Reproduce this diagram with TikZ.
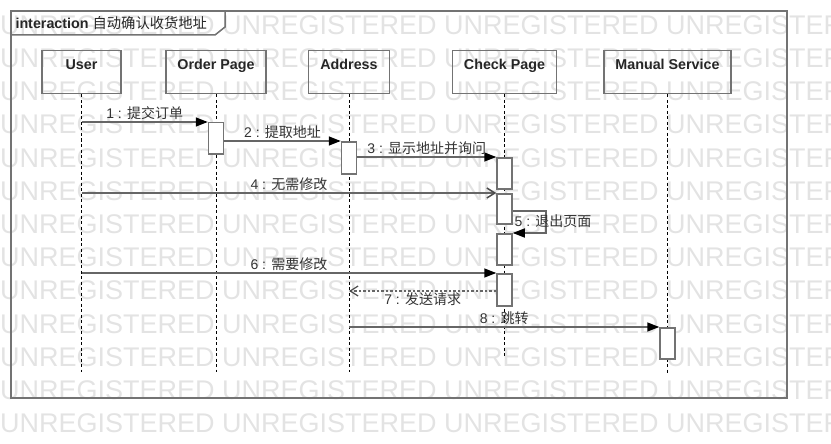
\documentclass[tikz,border=0pt]{standalone}
\usepackage{fontspec}
\setmainfont{Liberation Sans}
\newfontfamily\cjk{Noto Sans CJK SC}
\usetikzlibrary{
    positioning,
    arrows.meta
}

\begin{document}
\begin{tikzpicture}[x=1pt, y=-1pt,
    watermark/.style={text=black!11, font=\fontsize{27}{30}\selectfont, inner sep=0pt, anchor=west},
    frameline/.style={draw=black!55, line width=1.5pt},
    head/.style={draw=black!55, line width=1.5pt, minimum width=#1, minimum height=43pt,
        inner ysep=0pt, text height=19pt, text depth=24pt, anchor=north,
        font=\fontsize{14.3}{16}\selectfont\bfseries, text=black!85},
    lifeline/.style={black, line width=0.8pt, dash pattern=on 3pt off 2.5pt},
    act/.style={draw=black!55, fill=white, line width=1.5pt, minimum width=15pt,
        minimum height=#1, inner sep=0pt, anchor=north},
    call/.style={draw=black!60, line width=1.5pt, -{Triangle[length=12pt,width=9pt,black]}},
    async/.style={draw=black!60, line width=1.5pt, -{Straight Barb[length=8pt,width=10pt,black!70]}},
    reply/.style={draw=black!60, line width=1.2pt, dash pattern=on 2.5pt off 2pt,
        -{Straight Barb[length=8pt,width=10pt,black!70]}},
    msg/.style={font=\fontsize{14}{16}\selectfont, text=black!80, inner sep=1.5pt}
  ]
    \useasboundingbox (0,0) rectangle (831,444);

    % 透かし
    \begin{scope}
        \clip (0,0) rectangle (831,444);
        \foreach \r in {0,...,12}
            \node[watermark] at (0,{25+33.2*\r}) {UNREGISTERED UNREGISTERED UNREGISTERED UNREGISTERED};
    \end{scope}

    % 枠
    \draw[frameline] (11,11) rectangle (787,398);
    \draw[frameline] (11,35) -- (215,35) -- (225,27) -- (225,11);
    \node[anchor=west, font=\fontsize{14.3}{16}\selectfont, text=black!85] (title) at (12,23)
        {\textbf{interaction} {\cjk 自动确认收货地址}};

    % ライフライン
    \node[head=79pt] (user) at (81.5,50) {User};
    \node[head=100pt] (order) at (216,50) {Order Page};
    \node[head=81pt] (addr) at (349,50) {Address};
    \node[head=104pt] (check) at (504.5,50) {Check Page};
    \node[head=127pt] (manual) at (667.5,50) {Manual Service};

    \coordinate (userend) at (user.south |- 0,372);
    \coordinate (orderend) at (order.south |- 0,372);
    \coordinate (addrend) at (addr.south |- 0,372);
    \coordinate (checkend) at (check.south |- 0,358);
    \coordinate (manualend) at (manual.south |- 0,373);
    \foreach \n in {user, order, addr, check, manual}
        \draw[lifeline] (\n.south) -- (\n end);

    % 活性化
    \node[act=31pt] (a1) at (order.south |- 0,122) {};
    \node[act=32pt] (a2) at (addr.south |- 0,141) {};
    \node[act=31pt] (a3) at (check.south |- 0,157) {};
    \node[act=30pt] (a4) at (check.south |- 0,193) {};
    \node[act=31pt] (a5) at (check.south |- 0,233) {};
    \node[act=32pt] (a6) at (check.south |- 0,273) {};
    \node[act=31pt] (a7) at (manual.south |- 0,327) {};

    % メッセージ
    \draw[call] (user.south |- a1.north) -- (a1.north west)
        node[msg, midway, above] {1 : {\cjk 提交订单}};
    \draw[call] (a1.east |- a2.north) -- (a2.north west)
        node[msg, midway, above] {2 : {\cjk 提取地址}};
    \draw[call] (a2.east |- a3.north) -- (a3.north west)
        node[msg, midway, above] {3 : {\cjk 显示地址并询问}};
    \draw[async] (user.south |- a4.north) -- (a4.north west)
        node[msg, midway, above] {4 : {\cjk 无需修改}};
    \draw[call] (a4.east |- 0,211) -- ++(33,0) |- (a5.north east);
    \node[msg, anchor=west] (m5) at (513,221) {5 : {\cjk 退出页面}};
    \draw[call] (user.south |- a6.north) -- (a6.north west)
        node[msg, midway, above] {6 : {\cjk 需要修改}};
    \draw[reply] (a6.west |- 0,291) -- (addr.south |- 0,291)
        node[msg, midway, below] {7 : {\cjk 发送请求}};
    \draw[call] (addr.south |- a7.north) -- (a7.north west)
        node[msg, midway, above] {8 : {\cjk 跳转}};
\end{tikzpicture}
\end{document}
